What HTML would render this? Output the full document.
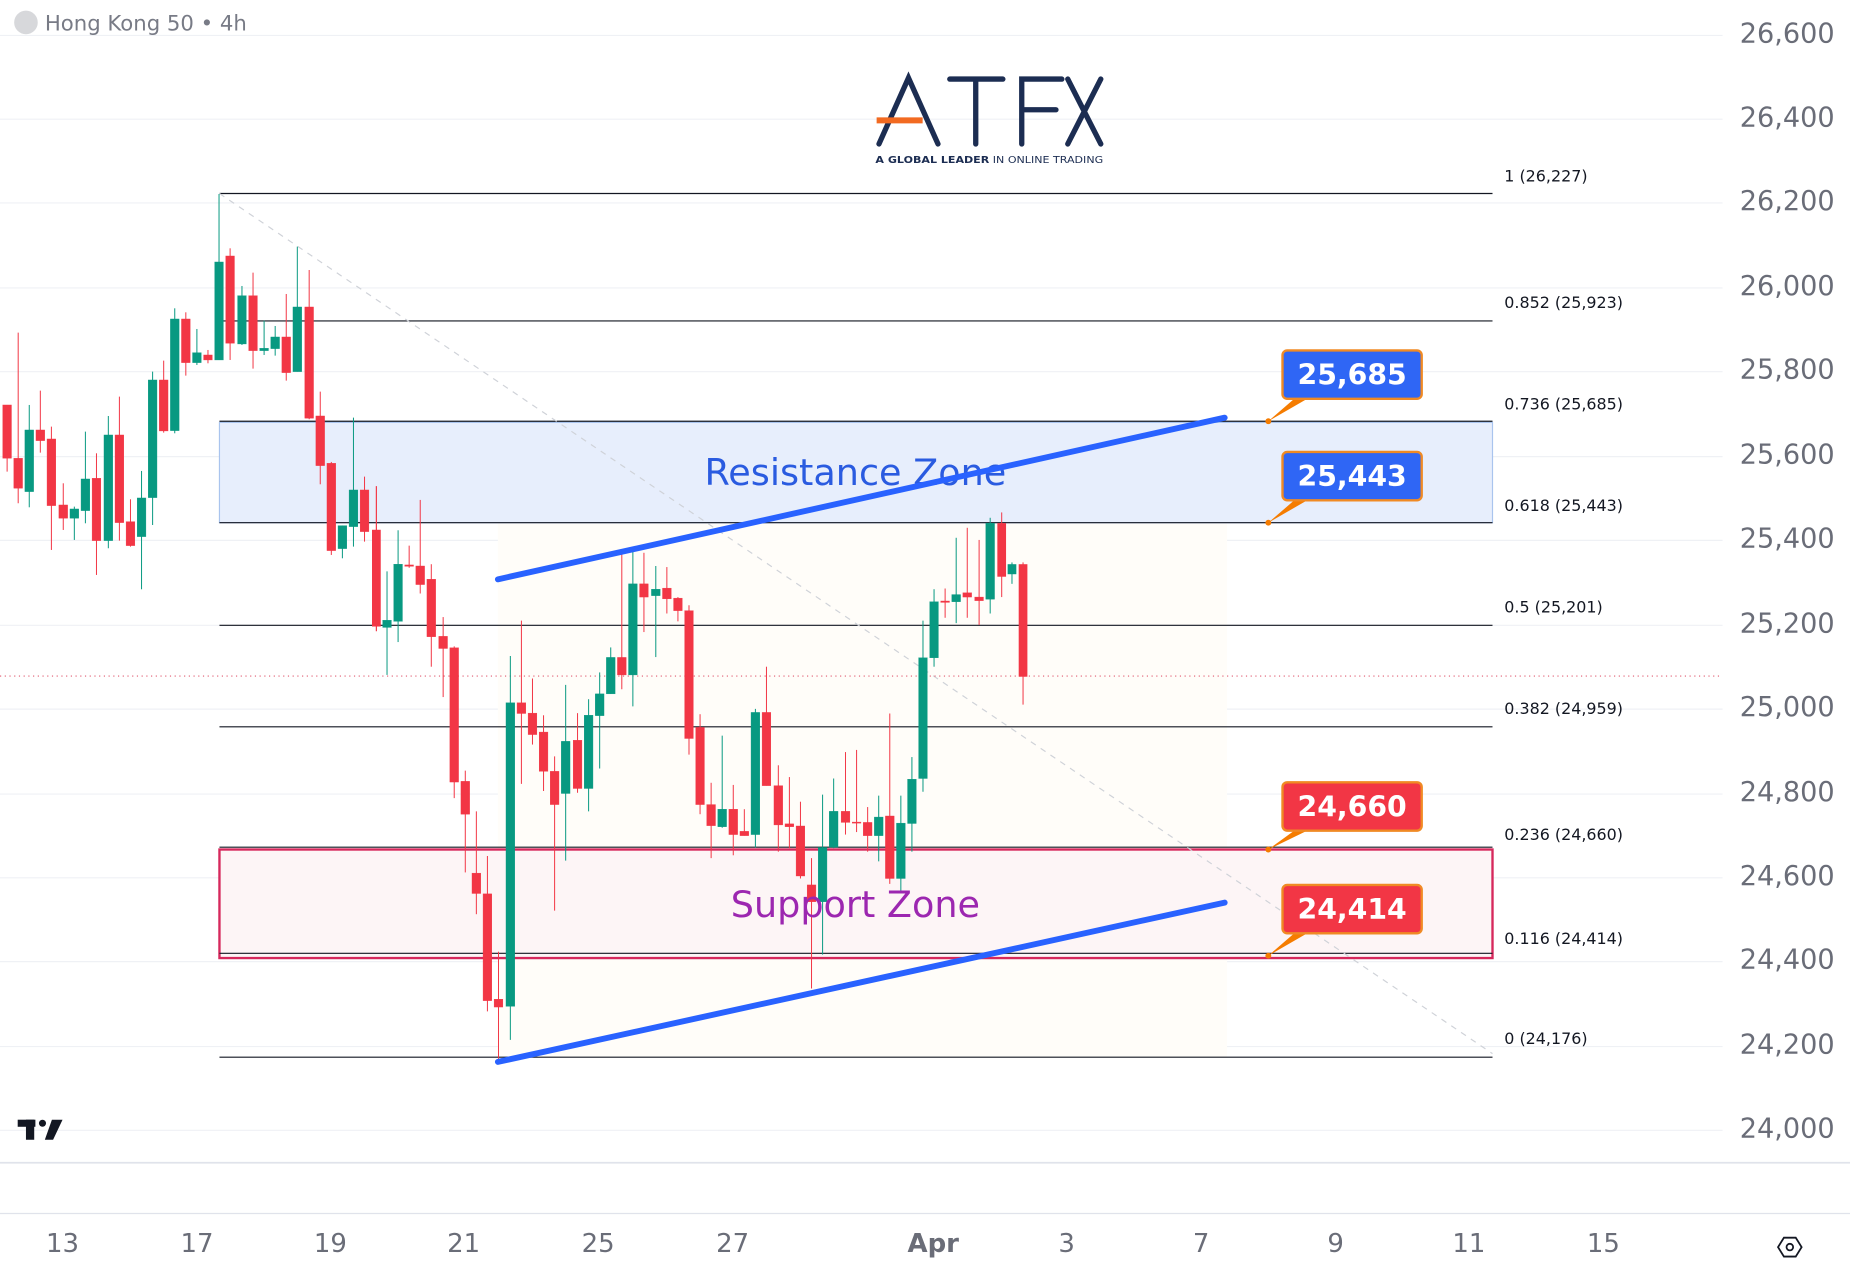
<!DOCTYPE html>
<html><head><meta charset="utf-8"><style>
html,body{margin:0;padding:0;background:#fff;}
svg{display:block;}
text{font-family:"DejaVu Sans","Liberation Sans",sans-serif;}
</style></head><body>
<svg width="1850" height="1279" viewBox="0 0 1568 1084" xmlns="http://www.w3.org/2000/svg">
<rect width="1568" height="1084" fill="#fff"/>
<g stroke="#eff1f5" stroke-width="1">
<line x1="0" y1="30" x2="1460" y2="30"/><line x1="0" y1="101" x2="1460" y2="101"/><line x1="0" y1="172" x2="1460" y2="172"/><line x1="0" y1="244" x2="1460" y2="244"/><line x1="0" y1="315" x2="1460" y2="315"/><line x1="0" y1="387" x2="1460" y2="387"/><line x1="0" y1="458" x2="1460" y2="458"/><line x1="0" y1="530" x2="1460" y2="530"/><line x1="0" y1="601" x2="1460" y2="601"/><line x1="0" y1="673" x2="1460" y2="673"/><line x1="0" y1="744" x2="1460" y2="744"/><line x1="0" y1="815" x2="1460" y2="815"/><line x1="0" y1="887" x2="1460" y2="887"/><line x1="0" y1="958" x2="1460" y2="958"/>
</g>
<line x1="0" y1="985.5" x2="1568" y2="985.5" stroke="#e0e3eb" stroke-width="1.5"/>
<line x1="0" y1="1028.5" x2="1568" y2="1028.5" stroke="#e0e3eb" stroke-width="1"/>
<rect x="422" y="443" width="618" height="453" fill="#fffdf9"/>
<rect x="186" y="358" width="1079" height="85" fill="#e7eefc" stroke="#a9c4ee" stroke-width="1"/>
<rect x="186" y="720" width="1079" height="92" fill="#fdf5f6" stroke="#d6285c" stroke-width="2"/>
<g stroke="#131722" stroke-width="1">
<line x1="186" y1="164" x2="1265" y2="164"/><line x1="186" y1="272" x2="1265" y2="272"/><line x1="186" y1="357" x2="1265" y2="357"/><line x1="186" y1="443" x2="1265" y2="443"/><line x1="186" y1="530" x2="1265" y2="530"/><line x1="186" y1="616" x2="1265" y2="616"/><line x1="186" y1="718" x2="1265" y2="718"/><line x1="186" y1="808" x2="1265" y2="808"/><line x1="186" y1="896" x2="1265" y2="896"/>
</g>
<g font-size="13.5" fill="#131722">
<text x="1275" y="154">1 (26,227)</text><text x="1275" y="261">0.852 (25,923)</text><text x="1275" y="347">0.736 (25,685)</text><text x="1275" y="433">0.618 (25,443)</text><text x="1275" y="519">0.5 (25,201)</text><text x="1275" y="605">0.382 (24,959)</text><text x="1275" y="712">0.236 (24,660)</text><text x="1275" y="800">0.116 (24,414)</text><text x="1275" y="885">0 (24,176)</text>
</g>
<line x1="186" y1="164" x2="1265" y2="893" stroke="#cfd2d8" stroke-width="1" stroke-dasharray="5,5"/>
<line x1="0" y1="573" x2="1460" y2="573" stroke="#e05a70" stroke-width="1" stroke-dasharray="1,3"/>
<g transform="translate(0,127.1) scale(0.3351,0.2825)">
<g stroke="#f23645" fill="#f23645">
<line x1="18" y1="765" x2="18" y2="965" vector-effect="non-scaling-stroke"/><rect x="7" y="765" width="22" height="160"/>
<line x1="46" y1="548" x2="46" y2="1060" vector-effect="non-scaling-stroke"/><rect x="35" y="925" width="22" height="90"/>
<line x1="102" y1="722" x2="102" y2="908" vector-effect="non-scaling-stroke"/><rect x="91" y="840" width="22" height="32"/>
<line x1="130" y1="830" x2="130" y2="1200" vector-effect="non-scaling-stroke"/><rect x="119" y="867" width="22" height="200"/>
<line x1="160" y1="1000" x2="160" y2="1140" vector-effect="non-scaling-stroke"/><rect x="149" y="1065" width="22" height="40"/>
<line x1="244" y1="910" x2="244" y2="1275" vector-effect="non-scaling-stroke"/><rect x="233" y="985" width="22" height="187"/>
<line x1="302" y1="740" x2="302" y2="1172" vector-effect="non-scaling-stroke"/><rect x="291" y="855" width="22" height="263"/>
<line x1="330" y1="1048" x2="330" y2="1190" vector-effect="non-scaling-stroke"/><rect x="319" y="1115" width="22" height="72"/>
<line x1="414" y1="632" x2="414" y2="848" vector-effect="non-scaling-stroke"/><rect x="403" y="690" width="22" height="153"/>
<line x1="470" y1="487" x2="470" y2="677" vector-effect="non-scaling-stroke"/><rect x="459" y="507" width="22" height="131"/>
<line x1="526" y1="600" x2="526" y2="640" vector-effect="non-scaling-stroke"/><rect x="515" y="615" width="22" height="15"/>
<line x1="582" y1="295" x2="582" y2="630" vector-effect="non-scaling-stroke"/><rect x="571" y="318" width="22" height="262"/>
<line x1="640" y1="368" x2="640" y2="656" vector-effect="non-scaling-stroke"/><rect x="629" y="437" width="22" height="165"/>
<line x1="724" y1="432" x2="724" y2="692" vector-effect="non-scaling-stroke"/><rect x="713" y="561" width="22" height="107"/>
<line x1="782" y1="360" x2="782" y2="808" vector-effect="non-scaling-stroke"/><rect x="771" y="471" width="22" height="334"/>
<line x1="810" y1="725" x2="810" y2="1003" vector-effect="non-scaling-stroke"/><rect x="799" y="798" width="22" height="149"/>
<line x1="838" y1="936" x2="838" y2="1215" vector-effect="non-scaling-stroke"/><rect x="827" y="940" width="22" height="262"/>
<line x1="922" y1="980" x2="922" y2="1175" vector-effect="non-scaling-stroke"/><rect x="911" y="1020" width="22" height="125"/>
</g>
<g stroke="#089981" fill="#089981">
<line x1="74" y1="765" x2="74" y2="1072" vector-effect="non-scaling-stroke"/><rect x="63" y="840" width="22" height="185"/>
<line x1="188" y1="1070" x2="188" y2="1170" vector-effect="non-scaling-stroke"/><rect x="177" y="1077" width="22" height="28"/>
<line x1="216" y1="845" x2="216" y2="1120" vector-effect="non-scaling-stroke"/><rect x="205" y="987" width="22" height="95"/>
<line x1="274" y1="798" x2="274" y2="1195" vector-effect="non-scaling-stroke"/><rect x="263" y="855" width="22" height="317"/>
<line x1="358" y1="963" x2="358" y2="1318" vector-effect="non-scaling-stroke"/><rect x="347" y="1044" width="22" height="116"/>
<line x1="386" y1="665" x2="386" y2="1125" vector-effect="non-scaling-stroke"/><rect x="375" y="690" width="22" height="353"/>
<line x1="442" y1="475" x2="442" y2="850" vector-effect="non-scaling-stroke"/><rect x="431" y="507" width="22" height="335"/>
<line x1="498" y1="537" x2="498" y2="645" vector-effect="non-scaling-stroke"/><rect x="487" y="608" width="22" height="30"/>
<line x1="554" y1="132" x2="554" y2="630" vector-effect="non-scaling-stroke"/><rect x="543" y="336" width="22" height="294"/>
<line x1="612" y1="408" x2="612" y2="585" vector-effect="non-scaling-stroke"/><rect x="601" y="437" width="22" height="145"/>
<line x1="668" y1="512" x2="668" y2="615" vector-effect="non-scaling-stroke"/><rect x="657" y="595" width="22" height="7"/>
<line x1="696" y1="528" x2="696" y2="617" vector-effect="non-scaling-stroke"/><rect x="685" y="561" width="22" height="35"/>
<line x1="752" y1="290" x2="752" y2="665" vector-effect="non-scaling-stroke"/><rect x="741" y="471" width="22" height="194"/>
<line x1="866" y1="1127" x2="866" y2="1225" vector-effect="non-scaling-stroke"/><rect x="855" y="1127" width="22" height="69"/>
<line x1="894" y1="803" x2="894" y2="1190" vector-effect="non-scaling-stroke"/><rect x="883" y="1020" width="22" height="110"/>
</g>
</g>
<line x1="319" y1="412" x2="319" y2="535" stroke="#f23645" stroke-width="1"/><rect x="315.3" y="449" width="7.4" height="82" fill="#f23645"/>
<g transform="translate(322,423.7) scale(0.335,0.3027)">
<g stroke="#f23645" fill="#f23645">
<line x1="74" y1="128" x2="74" y2="190" vector-effect="non-scaling-stroke"/><rect x="63" y="182" width="22" height="4"/>
<line x1="102" y1="0" x2="102" y2="262" vector-effect="non-scaling-stroke"/><rect x="91" y="185" width="22" height="52"/>
<line x1="130" y1="180" x2="130" y2="467" vector-effect="non-scaling-stroke"/><rect x="119" y="222" width="22" height="161"/>
<line x1="160" y1="328" x2="160" y2="552" vector-effect="non-scaling-stroke"/><rect x="149" y="382" width="22" height="34"/>
<line x1="188" y1="410" x2="188" y2="835" vector-effect="non-scaling-stroke"/><rect x="177" y="414" width="22" height="376"/>
<line x1="216" y1="758" x2="216" y2="1043" vector-effect="non-scaling-stroke"/><rect x="205" y="788" width="22" height="92"/>
<line x1="244" y1="872" x2="244" y2="1160" vector-effect="non-scaling-stroke"/><rect x="233" y="1045" width="22" height="57"/>
<line x1="272" y1="997" x2="272" y2="1432" vector-effect="non-scaling-stroke"/><rect x="261" y="1103" width="22" height="299"/>
<line x1="300" y1="1265" x2="300" y2="1565" vector-effect="non-scaling-stroke"/><rect x="289" y="1398" width="22" height="22"/>
<line x1="358" y1="338" x2="358" y2="795" vector-effect="non-scaling-stroke"/><rect x="347" y="568" width="22" height="30"/>
<line x1="386" y1="500" x2="386" y2="685" vector-effect="non-scaling-stroke"/><rect x="375" y="597" width="22" height="60"/>
<line x1="414" y1="603" x2="414" y2="815" vector-effect="non-scaling-stroke"/><rect x="403" y="650" width="22" height="110"/>
<line x1="442" y1="718" x2="442" y2="1150" vector-effect="non-scaling-stroke"/><rect x="431" y="760" width="22" height="93"/>
<line x1="500" y1="597" x2="500" y2="820" vector-effect="non-scaling-stroke"/><rect x="489" y="673" width="22" height="135"/>
<line x1="612" y1="148" x2="612" y2="530" vector-effect="non-scaling-stroke"/><rect x="601" y="441" width="22" height="49"/>
<line x1="668" y1="148" x2="668" y2="370" vector-effect="non-scaling-stroke"/><rect x="657" y="235" width="22" height="37"/>
<line x1="726" y1="188" x2="726" y2="318" vector-effect="non-scaling-stroke"/><rect x="715" y="247" width="22" height="30"/>
<line x1="754" y1="272" x2="754" y2="340" vector-effect="non-scaling-stroke"/><rect x="743" y="275" width="22" height="35"/>
<line x1="782" y1="295" x2="782" y2="713" vector-effect="non-scaling-stroke"/><rect x="771" y="310" width="22" height="358"/>
<line x1="810" y1="600" x2="810" y2="880" vector-effect="non-scaling-stroke"/><rect x="799" y="637" width="22" height="216"/>
<line x1="838" y1="792" x2="838" y2="1003" vector-effect="non-scaling-stroke"/><rect x="827" y="853" width="22" height="59"/>
<line x1="894" y1="798" x2="894" y2="995" vector-effect="non-scaling-stroke"/><rect x="883" y="866" width="22" height="71"/>
<line x1="922" y1="866" x2="922" y2="940" vector-effect="non-scaling-stroke"/><rect x="911" y="928" width="22" height="12"/>
<line x1="978" y1="467" x2="978" y2="800" vector-effect="non-scaling-stroke"/><rect x="967" y="595" width="22" height="205"/>
<line x1="1008" y1="743" x2="1008" y2="985" vector-effect="non-scaling-stroke"/><rect x="997" y="800" width="22" height="110"/>
<line x1="1036" y1="776" x2="1036" y2="975" vector-effect="non-scaling-stroke"/><rect x="1025" y="907" width="22" height="8"/>
<line x1="1064" y1="845" x2="1064" y2="1060" vector-effect="non-scaling-stroke"/><rect x="1053" y="913" width="22" height="140"/>
<line x1="1092" y1="1003" x2="1092" y2="1368" vector-effect="non-scaling-stroke"/><rect x="1081" y="1078" width="22" height="47"/>
<line x1="1178" y1="706" x2="1178" y2="937" vector-effect="non-scaling-stroke"/><rect x="1167" y="872" width="22" height="31"/>
<line x1="1206" y1="700" x2="1206" y2="930" vector-effect="non-scaling-stroke"/><rect x="1195" y="902" width="22" height="3"/>
<line x1="1234" y1="860" x2="1234" y2="985" vector-effect="non-scaling-stroke"/><rect x="1223" y="903" width="22" height="37"/>
<line x1="1290" y1="598" x2="1290" y2="1075" vector-effect="non-scaling-stroke"/><rect x="1279" y="885" width="22" height="175"/>
<line x1="1430" y1="248" x2="1430" y2="330" vector-effect="non-scaling-stroke"/><rect x="1419" y="283" width="22" height="4"/>
<line x1="1486" y1="78" x2="1486" y2="330" vector-effect="non-scaling-stroke"/><rect x="1475" y="260" width="22" height="12"/>
<line x1="1516" y1="112" x2="1516" y2="350" vector-effect="non-scaling-stroke"/><rect x="1505" y="272" width="22" height="10"/>
</g>
<g stroke="#089981" fill="#089981">
<line x1="18" y1="200" x2="18" y2="490" vector-effect="non-scaling-stroke"/><rect x="7" y="337" width="22" height="20"/>
<line x1="46" y1="85" x2="46" y2="398" vector-effect="non-scaling-stroke"/><rect x="35" y="180" width="22" height="160"/>
<line x1="330" y1="437" x2="330" y2="1512" vector-effect="non-scaling-stroke"/><rect x="319" y="568" width="22" height="850"/>
<line x1="470" y1="518" x2="470" y2="1010" vector-effect="non-scaling-stroke"/><rect x="459" y="676" width="22" height="146"/>
<line x1="528" y1="558" x2="528" y2="872" vector-effect="non-scaling-stroke"/><rect x="517" y="603" width="22" height="205"/>
<line x1="556" y1="483" x2="556" y2="752" vector-effect="non-scaling-stroke"/><rect x="545" y="543" width="22" height="61"/>
<line x1="584" y1="413" x2="584" y2="543" vector-effect="non-scaling-stroke"/><rect x="573" y="441" width="22" height="102"/>
<line x1="640" y1="143" x2="640" y2="578" vector-effect="non-scaling-stroke"/><rect x="629" y="235" width="22" height="255"/>
<line x1="698" y1="185" x2="698" y2="440" vector-effect="non-scaling-stroke"/><rect x="687" y="250" width="22" height="18"/>
<line x1="866" y1="660" x2="866" y2="918" vector-effect="non-scaling-stroke"/><rect x="855" y="866" width="22" height="49"/>
<line x1="950" y1="585" x2="950" y2="973" vector-effect="non-scaling-stroke"/><rect x="939" y="595" width="22" height="342"/>
<line x1="1120" y1="825" x2="1120" y2="1273" vector-effect="non-scaling-stroke"/><rect x="1109" y="973" width="22" height="152"/>
<line x1="1148" y1="780" x2="1148" y2="975" vector-effect="non-scaling-stroke"/><rect x="1137" y="872" width="22" height="100"/>
<line x1="1262" y1="828" x2="1262" y2="1012" vector-effect="non-scaling-stroke"/><rect x="1251" y="888" width="22" height="52"/>
<line x1="1318" y1="828" x2="1318" y2="1100" vector-effect="non-scaling-stroke"/><rect x="1307" y="905" width="22" height="155"/>
<line x1="1346" y1="720" x2="1346" y2="985" vector-effect="non-scaling-stroke"/><rect x="1335" y="782" width="22" height="124"/>
<line x1="1374" y1="338" x2="1374" y2="817" vector-effect="non-scaling-stroke"/><rect x="1363" y="442" width="22" height="338"/>
<line x1="1402" y1="250" x2="1402" y2="467" vector-effect="non-scaling-stroke"/><rect x="1391" y="285" width="22" height="157"/>
<line x1="1458" y1="106" x2="1458" y2="345" vector-effect="non-scaling-stroke"/><rect x="1447" y="265" width="22" height="20"/>
<line x1="1544" y1="50" x2="1544" y2="318" vector-effect="non-scaling-stroke"/><rect x="1533" y="65" width="22" height="213"/>
</g>
</g>
<g transform="translate(525.4,423.7) scale(0.335,0.3027)">
<line x1="966" y1="35" x2="966" y2="272" stroke="#f23645" vector-effect="non-scaling-stroke"/><rect x="955" y="65" width="22" height="150" fill="#f23645"/>
<line x1="992" y1="175" x2="992" y2="235" stroke="#089981" vector-effect="non-scaling-stroke"/><rect x="981" y="180" width="22" height="28" fill="#089981"/>
<line x1="1020" y1="175" x2="1020" y2="573" stroke="#f23645" vector-effect="non-scaling-stroke"/><rect x="1009" y="180" width="22" height="315" fill="#f23645"/>
</g>
<text x="725" y="411" font-family="DejaVu Sans" font-size="31" fill="#2a5be0" text-anchor="middle">Resistance Zone</text>
<text x="725" y="777" font-family="DejaVu Sans" font-size="31" fill="#9c27b0" text-anchor="middle">Support Zone</text>
<line x1="422" y1="491" x2="1038" y2="354" stroke="#2962ff" stroke-width="5" stroke-linecap="round"/>
<line x1="422" y1="900" x2="1038" y2="765" stroke="#2962ff" stroke-width="5" stroke-linecap="round"/>
<g font-family="DejaVu Sans" font-weight="bold" font-size="24" fill="#fff" text-anchor="middle">
<path d="M1075,357 L1097,338 L1108,338 Z" fill="#f57c00"/><circle cx="1075" cy="357" r="2.5" fill="#f57c00"/>
<rect x="1087" y="297" width="118" height="41" rx="4" fill="#2f66f5" stroke="#f08a24" stroke-width="2"/><text x="1146" y="326">25,685</text>
<path d="M1075,443 L1097,424 L1108,424 Z" fill="#f57c00"/><circle cx="1075" cy="443" r="2.5" fill="#f57c00"/>
<rect x="1087" y="383" width="118" height="41" rx="4" fill="#2f66f5" stroke="#f08a24" stroke-width="2"/><text x="1146" y="412">25,443</text>
<path d="M1075,720 L1097,704 L1108,704 Z" fill="#f57c00"/><circle cx="1075" cy="720" r="2.5" fill="#f57c00"/>
<rect x="1087" y="663" width="118" height="41" rx="4" fill="#f23645" stroke="#f08a24" stroke-width="2"/><text x="1146" y="692">24,660</text>
<path d="M1075,810 L1097,791 L1108,791 Z" fill="#f57c00"/><circle cx="1075" cy="810" r="2.5" fill="#f57c00"/>
<rect x="1087" y="750" width="118" height="41" rx="4" fill="#f23645" stroke="#f08a24" stroke-width="2"/><text x="1146" y="779">24,414</text>
</g>
<g stroke="#1c2d52" stroke-width="4.5" fill="none" stroke-linecap="round">
<path d="M745,122 L770,66 L795,122"/>
<path d="M805,67 L850,67 M827,67 L827,122"/>
<path d="M866,122 L866,67 L900,67 M866,93 L895,93"/>
<path d="M905,67 L933,122 M933,67 L905,122"/>
</g>
<line x1="743" y1="102" x2="782" y2="102" stroke="#f26a21" stroke-width="5"/>
<text x="742" y="138" font-family="DejaVu Sans" font-size="8.5" fill="#1c2d52" textLength="193" lengthAdjust="spacingAndGlyphs"><tspan font-weight="bold">A GLOBAL LEADER</tspan> IN ONLINE TRADING</text>
<circle cx="22" cy="19" r="10" fill="#d7d8db"/>
<text x="38" y="26" font-size="18" fill="#787b86" font-family="Liberation Sans">Hong Kong 50 • 4h</text>
<g font-size="23" fill="#6a6d78" text-anchor="end" font-family="Liberation Sans">
<text x="1555" y="36">26,600</text><text x="1555" y="107">26,400</text><text x="1555" y="178">26,200</text><text x="1555" y="250">26,000</text><text x="1555" y="321">25,800</text><text x="1555" y="393">25,600</text><text x="1555" y="464">25,400</text><text x="1555" y="536">25,200</text><text x="1555" y="607">25,000</text><text x="1555" y="679">24,800</text><text x="1555" y="750">24,600</text><text x="1555" y="821">24,400</text><text x="1555" y="893">24,200</text><text x="1555" y="964">24,000</text>
</g>
<g font-size="22" fill="#6a6d78" text-anchor="middle" font-family="Liberation Sans">
<text x="53" y="1061">13</text><text x="167" y="1061">17</text><text x="280" y="1061">19</text><text x="393" y="1061">21</text><text x="507" y="1061">25</text><text x="621" y="1061">27</text><text x="791" y="1061" font-weight="bold">Apr</text><text x="904" y="1061">3</text><text x="1018" y="1061">7</text><text x="1132" y="1061">9</text><text x="1245" y="1061">11</text><text x="1359" y="1061">15</text>
</g>
<path d="M1512,1049 L1522,1049 L1527,1057 L1522,1065 L1512,1065 L1507,1057 Z" fill="none" stroke="#131722" stroke-width="1.5"/>
<circle cx="1517" cy="1057" r="2.8" fill="none" stroke="#131722" stroke-width="1.5"/>
<g fill="#131722">
<rect x="15" y="949" width="15" height="6"/><rect x="22" y="949" width="7" height="17"/>
<circle cx="36" cy="952" r="3"/>
<path d="M44,949 L53,949 L45,966 L38,966 Z"/>
</g>
</svg>
</body></html>
